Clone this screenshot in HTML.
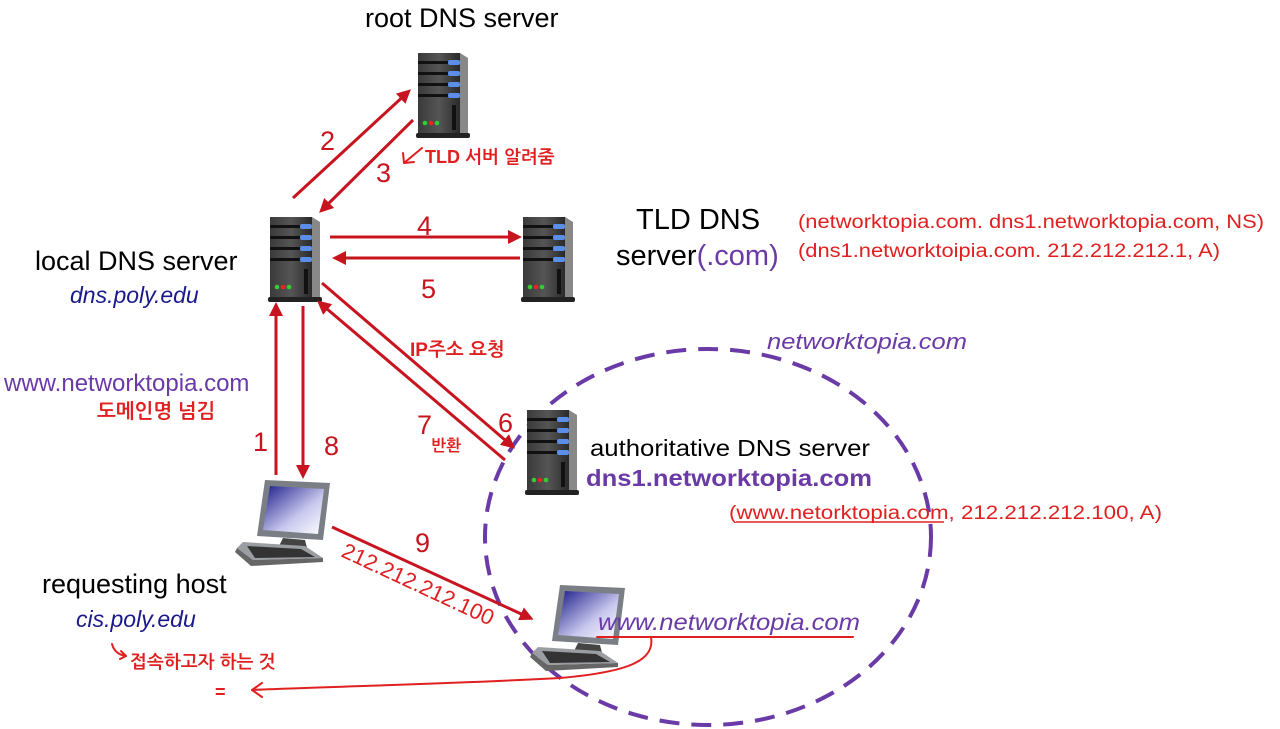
<!DOCTYPE html>
<html><head><meta charset="utf-8"><style>
html,body{margin:0;padding:0;background:#fff;}
svg{display:block;}
text{font-family:"Liberation Sans","Noto Sans CJK KR",sans-serif;}
.hw{font-family:"Liberation Sans","NanumGothic","Noto Sans CJK KR",sans-serif;fill:#e02020;font-weight:bold;}
</style></head><body>
<svg width="1280" height="729" viewBox="0 0 1280 729" xmlns="http://www.w3.org/2000/svg">
<defs>
<linearGradient id="sb" x1="0" x2="1"><stop offset="0" stop-color="#3a3a3a"/><stop offset=".5" stop-color="#555"/><stop offset="1" stop-color="#2a2a2a"/></linearGradient>
<linearGradient id="scr" x1="0" y1="0" x2="1" y2="1"><stop offset="0" stop-color="#1c1c8a"/><stop offset=".6" stop-color="#c8c8ee"/><stop offset="1" stop-color="#fff"/></linearGradient>
<marker id="ah2" markerWidth="14" markerHeight="14" refX="10" refY="7" orient="auto" markerUnits="userSpaceOnUse" viewBox="0 0 14 14"><path d="M0,0 L14,7 L0,14 z" fill="#c8141e"/></marker>
<g id="srv">
<rect x="0" y="0" width="42" height="80" fill="url(#sb)"/>
<polygon points="42,0 50,5 50,82 42,80" fill="#888"/>
<rect x="0" y="8" width="42" height="3" fill="#111"/><rect x="30" y="7" width="12" height="5" rx="2" fill="#5b8ee8"/>
<rect x="0" y="19" width="42" height="3" fill="#111"/><rect x="30" y="18" width="12" height="5" rx="2" fill="#5b8ee8"/>
<rect x="0" y="30" width="42" height="3" fill="#111"/><rect x="30" y="29" width="12" height="5" rx="2" fill="#5b8ee8"/>
<rect x="0" y="41" width="42" height="3" fill="#111"/><rect x="30" y="40" width="12" height="5" rx="2" fill="#5b8ee8"/>
<rect x="34" y="52" width="4" height="25" fill="#111"/>
<circle cx="7" cy="70" r="2.3" fill="#3c3"/><circle cx="13" cy="70" r="2.3" fill="#e22"/><circle cx="19" cy="70" r="2.3" fill="#3c3"/>
<rect x="-2" y="80" width="54" height="5" rx="2" fill="#222"/>
</g>
<g id="pc">
<polygon points="30,0 95,3 88,60 22,56" fill="#7a7f85"/>
<polygon points="35,6 89,9 83,54 28,50" fill="url(#scr)"/>
<polygon points="48,58 70,60 72,68 44,66" fill="#444"/>
<polygon points="8,62 70,66 88,78 18,80 2,68" fill="#9a9ea2"/>
<polygon points="12,66 66,69 80,77 20,78" fill="#333"/>
<polygon points="2,68 18,80 88,78 88,82 16,86 0,72" fill="#666"/>
</g>
</defs>

<ellipse cx="708" cy="537" rx="223" ry="188" fill="none" stroke="#6a3aa6" stroke-width="4" stroke-dasharray="20,12"/>

<use href="#srv" x="418" y="53"/>
<use href="#srv" x="270" y="217"/>
<use href="#srv" x="523" y="217"/>
<use href="#srv" x="527" y="410"/>
<use href="#pc" x="235" y="480"/>
<use href="#pc" x="530" y="585"/>

<g stroke="#c8141e" stroke-width="3" fill="none">
<line x1="293" y1="198" x2="408" y2="92" marker-end="url(#ah2)"/>
<line x1="413" y1="120" x2="322" y2="210" marker-end="url(#ah2)"/>
<line x1="330" y1="237" x2="518" y2="237" marker-end="url(#ah2)"/>
<line x1="520" y1="258" x2="336" y2="258" marker-end="url(#ah2)"/>
<line x1="322" y1="283" x2="512" y2="446" marker-end="url(#ah2)"/>
<line x1="505" y1="460" x2="320" y2="303" marker-end="url(#ah2)"/>
<line x1="276" y1="475" x2="276" y2="306" marker-end="url(#ah2)"/>
<line x1="303" y1="306" x2="303" y2="475" marker-end="url(#ah2)"/>
<line x1="332" y1="527" x2="530" y2="618" marker-end="url(#ah2)"/>
</g>
<g stroke="#e02020" stroke-width="2" fill="none" stroke-linecap="round" stroke-linejoin="round">
<path d="M597,637 L853,637"/>
<path d="M651,637 C655,660 630,672 560,678 C450,684 350,686 252,690"/>
<path d="M262,683 L252,690 L262,697"/>
<path d="M422,148 L404,163"/>
<path d="M403,153 L404,163 L414,162"/>
<path d="M112,644 C114,652 120,655 126,656"/>
<path d="M121,651 L126,656 L120,659"/>
</g>

<text x="365" y="27" font-size="27" fill="#000">root DNS server</text>
<text x="35" y="270" font-size="27" fill="#000">local DNS server</text>
<text x="70" y="303" font-size="23" font-style="italic" fill="#1a1a8a">dns.poly.edu</text>
<text x="636" y="229" font-size="29" fill="#000">TLD DNS</text>
<text x="616" y="265" font-size="29" fill="#000">server<tspan fill="#6a3aa6">(.com)</tspan></text>
<text x="798" y="228" font-size="19" fill="#e02020" textLength="466" lengthAdjust="spacingAndGlyphs">(networktopia.com. dns1.networktopia.com, NS)</text>
<text x="798" y="257" font-size="19" fill="#e02020" textLength="422" lengthAdjust="spacingAndGlyphs">(dns1.networktoipia.com. 212.212.212.1, A)</text>
<text x="767" y="349" font-size="22" font-style="italic" fill="#6a3aa6" textLength="200" lengthAdjust="spacingAndGlyphs">networktopia.com</text>
<text x="590" y="456" font-size="23" fill="#000" textLength="280" lengthAdjust="spacingAndGlyphs">authoritative DNS server</text>
<text x="586" y="486" font-size="23" font-weight="bold" fill="#6a3aa6" textLength="286" lengthAdjust="spacingAndGlyphs">dns1.networktopia.com</text>
<text x="729" y="519" font-size="19" fill="#e02020" textLength="433" lengthAdjust="spacingAndGlyphs">(www.netorktopia.com,  212.212.212.100, A)</text>
<line x1="736" y1="522" x2="944" y2="522" stroke="#e02020" stroke-width="1.5"/>
<text x="4" y="391" font-size="24" fill="#6a3aa6">www.networktopia.com</text>
<text x="42" y="593" font-size="27" fill="#000">requesting host</text>
<text x="76" y="627" font-size="23" font-style="italic" fill="#1a1a8a">cis.poly.edu</text>
<text x="598" y="630" font-size="23" font-style="italic" fill="#6a3aa6" textLength="262" lengthAdjust="spacingAndGlyphs">www.networktopia.com</text>

<g font-size="27" fill="#c8141e">
<text x="320" y="150">2</text>
<text x="376" y="182">3</text>
<text x="417" y="235">4</text>
<text x="421" y="298">5</text>
<text x="498" y="432">6</text>
<text x="417" y="434">7</text>
<text x="253" y="451">1</text>
<text x="324" y="455">8</text>
<text x="415" y="552">9</text>
</g>
<text x="340" y="556" font-size="22" fill="#e02020" transform="rotate(25 340 556)">212.212.212.100</text>

<text class="hw" x="425" y="163" font-size="18">TLD 서버 알려줌</text>
<text class="hw" x="410" y="356" font-size="19">IP주소 요청</text>
<text class="hw" x="431" y="451" font-size="16">반환</text>
<text class="hw" x="97" y="418" font-size="20">도메인명 넘김</text>
<text class="hw" x="130" y="668" font-size="18">접속하고자 하는 것</text>
<text class="hw" x="215" y="698" font-size="18">=</text>
</svg>
</body></html>
